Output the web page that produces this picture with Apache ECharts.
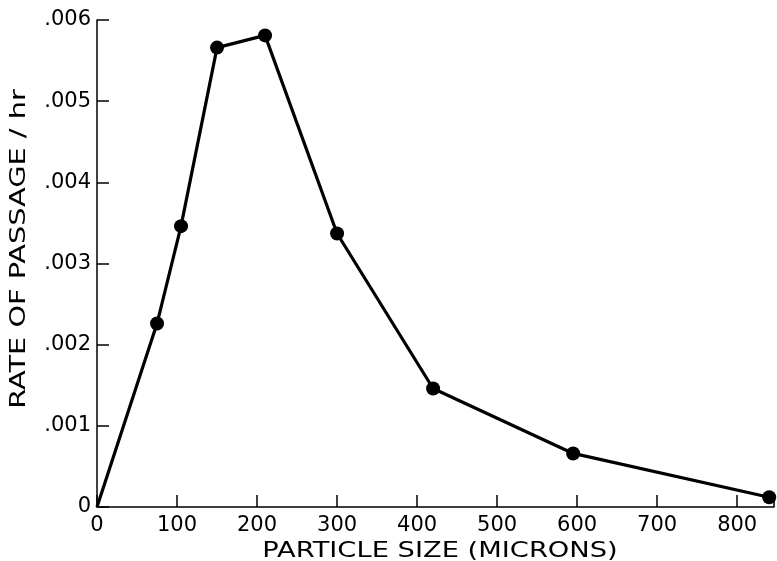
<!DOCTYPE html>
<html>
<head>
<meta charset="utf-8">
<script src="https://cdn.jsdelivr.net/npm/echarts@6/dist/echarts.min.js"></script>
<style>
  html, body { margin: 0; padding: 0; background: #fff; }
  #chart { width: 777px; height: 561px; }
</style>
</head>
<body>
<div id="chart"></div>
<script>
// particle size (microns) and rate of passage per hour
const sizes = [0, 75, 105, 150, 210, 300, 420, 595, 840];
const rates = [0, 0.00226, 0.00346, 0.00566, 0.00581, 0.00337, 0.00146, 0.00066, 0.00012];
const xTicks = [0, 100, 200, 300, 400, 500, 600, 700, 800];
const yTicks = [0, 0.001, 0.002, 0.003, 0.004, 0.005, 0.006];
const xTitle = 'PARTICLE SIZE (MICRONS)';
const yTitle = 'RATE OF PASSAGE / hr';

const font = 'DejaVu Sans';
const chart = echarts.init(document.getElementById('chart'));

chart.setOption({
  animation: false,
  backgroundColor: '#fff',
  grid: { left: 97, right: 0, top: 20, bottom: 54, containLabel: false },
  // axis titles drawn as stretched text to mimic the wide lettering
  graphic: [
    {
      type: 'text', x: 440, y: 552, scaleX: 1.3,
      style: { text: xTitle, fill: '#000', font: '21px "DejaVu Sans"', align: 'center', verticalAlign: 'middle' }
    },
    {
      type: 'text', x: 20, y: 249, rotation: Math.PI / 2, scaleX: 1.37,
      style: { text: yTitle, fill: '#000', font: '21px "DejaVu Sans"', align: 'center', verticalAlign: 'middle' }
    }
  ],
  xAxis: {
    type: 'value',
    min: 0,
    max: 846,
    interval: 100,
    axisLine: { show: true, lineStyle: { color: '#000', width: 1.5 } },
    axisTick: { show: true, inside: true, length: 12, lineStyle: { color: '#000', width: 1.5 } },
    axisLabel: {
      color: '#000', fontFamily: font, fontSize: 21, margin: 8,
      formatter: v => (xTicks.indexOf(v) >= 0 ? String(v) : '')
    },
    splitLine: { show: false }
  },
  yAxis: {
    type: 'value',
    min: 0,
    max: 0.006,
    interval: 0.001,
    axisLine: { show: true, lineStyle: { color: '#000', width: 1.5 } },
    axisTick: { show: true, inside: true, length: 12, lineStyle: { color: '#000', width: 1.5 } },
    axisLabel: {
      color: '#000', fontFamily: font, fontSize: 21, margin: 6,
      formatter: v => {
        const i = yTicks.findIndex(t => Math.abs(t - v) < 1e-9);
        if (i < 0) return '';
        return i === 0 ? '0' : yTicks[i].toFixed(3).replace(/^0/, '');
      }
    },
    splitLine: { show: false }
  },
  series: [{
    type: 'line',
    data: sizes.map((s, i) => (i === 0 ? { value: [s, rates[i]], symbol: 'none' } : [s, rates[i]])),
    symbol: 'circle',
    symbolSize: 14,
    showSymbol: true,
    clip: false,
    lineStyle: { color: '#000', width: 3.2 },
    itemStyle: { color: '#000' },
    emphasis: { disabled: true }
  }]
});
</script>
</body>
</html>
